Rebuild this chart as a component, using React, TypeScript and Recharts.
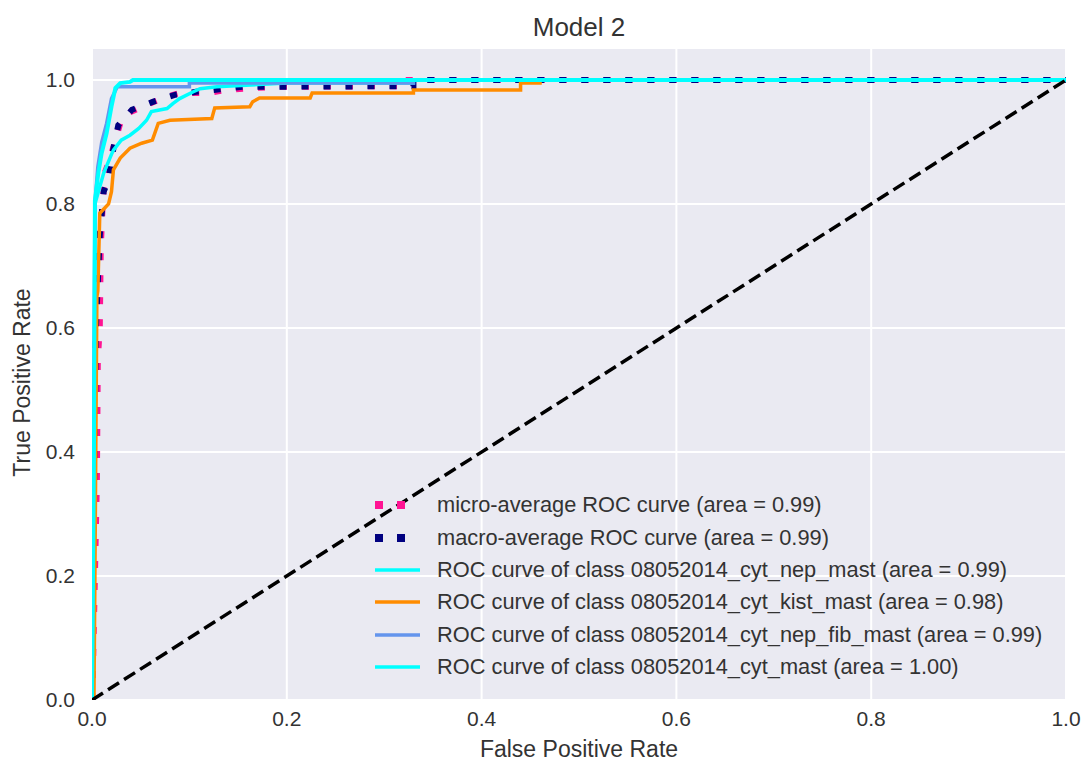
import { LineChart, Line, XAxis, YAxis, CartesianGrid, Label } from 'recharts';

const xTicks = [0, 0.2, 0.4, 0.6, 0.8, 1.0];
const yTicks = [0, 0.2, 0.4, 0.6, 0.8, 1.0];

// micro-average
const microFpr = [0, 0.001, 0.003, 0.005, 0.006, 0.008, 0.009, 0.011, 0.013, 0.018, 0.029, 0.039, 0.056, 0.073, 0.09, 0.118, 0.139, 0.165, 0.193, 0.31, 0.31, 1.0];
const microTpr = [0, 0.05, 0.2, 0.35, 0.55, 0.6, 0.73, 0.8, 0.85, 0.871, 0.93, 0.948, 0.96, 0.971, 0.979, 0.979, 0.984, 0.987, 0.989, 0.99, 1.0, 1.0];

// macro-average
const macroFpr = [0, 0.002, 0.004, 0.008, 0.012, 0.017, 0.022, 0.027, 0.041, 0.063, 0.085, 0.107, 0.131, 0.155, 0.33, 0.33, 1.0];
const macroTpr = [0, 0.3, 0.6, 0.75, 0.82, 0.84, 0.89, 0.927, 0.952, 0.965, 0.976, 0.981, 0.985, 0.989, 0.99, 1.0, 1.0];

// class 08052014_cyt_nep_mast
const nepFpr = [0, 0.002, 0.003, 0.012, 0.02, 0.022, 0.03, 0.039, 0.048, 0.056, 0.061, 0.077, 0.083, 0.09, 0.104, 0.111, 0.128, 0.2, 0.33, 0.33, 1.0];
const nepTpr = [0, 0.4, 0.8, 0.85, 0.88, 0.887, 0.903, 0.911, 0.922, 0.935, 0.949, 0.954, 0.962, 0.97, 0.981, 0.986, 0.989, 0.995, 0.995, 1.0, 1.0];

// class 08052014_cyt_kist_mast
const kistFpr = [0, 0.002, 0.003, 0.005, 0.006, 0.008, 0.017, 0.02, 0.022, 0.029, 0.039, 0.051, 0.062, 0.068, 0.08, 0.123, 0.126, 0.162, 0.165, 0.172, 0.224, 0.226, 0.33, 0.33, 0.44, 0.44, 0.46, 0.46, 1.0];
const kistTpr = [0, 0.0, 0.2, 0.65, 0.66, 0.785, 0.8, 0.82, 0.855, 0.874, 0.89, 0.898, 0.903, 0.93, 0.935, 0.938, 0.955, 0.957, 0.965, 0.971, 0.971, 0.979, 0.979, 0.984, 0.984, 0.995, 0.995, 1.0, 1.0];

// class 08052014_cyt_nep_fib_mast
const fibFpr = [0, 0.002, 0.003, 0.006, 0.01, 0.015, 0.02, 0.026, 0.1, 0.1, 0.33, 0.33, 1.0];
const fibTpr = [0, 0.5, 0.8, 0.86, 0.9, 0.93, 0.97, 0.989, 0.989, 0.995, 0.995, 1.0, 1.0];

// class 08052014_cyt_mast
const mastFpr = [0, 0.002, 0.003, 0.0065, 0.0099, 0.015, 0.02, 0.024, 0.029, 0.039, 0.042, 1.0];
const mastTpr = [0, 0.4, 0.806, 0.85, 0.882, 0.914, 0.957, 0.987, 0.995, 0.997, 1.0, 1.0];

const chanceFpr = [0, 1];
const chanceTpr = [0, 1];

const toPoints = (xs: number[], ys: number[]) => xs.map((x, i) => ({ x, y: ys[i] }));

const series = [
  { name: 'micro-average ROC curve (area = 0.99)', data: toPoints(microFpr, microTpr), color: '#ff1493', width: 6, dash: '7 15', dotted: true },
  { name: 'macro-average ROC curve (area = 0.99)', data: toPoints(macroFpr, macroTpr), color: '#000080', width: 6, dash: '7 15', dotted: true },
  { name: 'ROC curve of class 08052014_cyt_nep_mast (area = 0.99)', data: toPoints(nepFpr, nepTpr), color: '#00ffff', width: 3.5 },
  { name: 'ROC curve of class 08052014_cyt_kist_mast (area = 0.98)', data: toPoints(kistFpr, kistTpr), color: '#ff8c00', width: 3.5 },
  { name: 'ROC curve of class 08052014_cyt_nep_fib_mast (area = 0.99)', data: toPoints(fibFpr, fibTpr), color: '#6495ed', width: 3.5 },
  { name: 'ROC curve of class 08052014_cyt_mast (area = 1.00)', data: toPoints(mastFpr, mastTpr), color: '#00ffff', width: 4 },
];

const FONT = '"Liberation Sans", Arial, sans-serif';
const TEXT = '#333';

function RocLegend() {
  return (
    <div style={{ position: 'absolute', left: 370, top: 489, fontFamily: FONT, fontSize: 21.8, color: TEXT }}>
      {series.map((s) => (
        <div key={s.name} style={{ display: 'flex', alignItems: 'center', height: 32.4 }}>
          <svg width={67} height={12}>
            <line
              x1={5}
              y1={6}
              x2={s.dotted ? 42 : 50}
              y2={6}
              stroke={s.color}
              strokeWidth={s.dotted ? 8 : 3.5}
              strokeDasharray={s.dotted ? '8 14' : undefined}
            />
          </svg>
          <span style={{ whiteSpace: 'nowrap' }}>{s.name}</span>
        </div>
      ))}
    </div>
  );
}

export default function App() {
  return (
    <div style={{ position: 'absolute', left: 0, top: 0, width: 1082, height: 769, background: '#fff' }}>
      <div
        style={{
          position: 'absolute',
          left: 0,
          width: 1158,
          top: 12,
          textAlign: 'center',
          fontFamily: FONT,
          fontSize: 26,
          color: TEXT,
        }}
      >
        Model 2
      </div>
      <LineChart width={1082} height={769} margin={{ top: 49, right: 16, bottom: 0, left: 0 }}>
        <CartesianGrid fill="#eaeaf2" stroke="#ffffff" strokeWidth={2} horizontalValues={yTicks} verticalValues={xTicks} />
        <XAxis
          dataKey="x"
          type="number"
          domain={[0, 1]}
          ticks={xTicks}
          tickFormatter={(v: number) => v.toFixed(1)}
          height={69}
          axisLine={false}
          tickLine={false}
          tickSize={0}
          tickMargin={11}
          tick={{ fill: TEXT, fontSize: 21, fontFamily: FONT }}
          allowDataOverflow
        >
          <Label value="False Positive Rate" position="center" dy={14} fill={TEXT} fontSize={23} fontFamily={FONT} />
        </XAxis>
        <YAxis
          dataKey="y"
          type="number"
          domain={[0, 1.05]}
          ticks={yTicks}
          tickFormatter={(v: number) => v.toFixed(1)}
          width={92}
          axisLine={false}
          tickLine={false}
          tickSize={0}
          tickMargin={17}
          tick={{ fill: TEXT, fontSize: 21, fontFamily: FONT }}
          allowDataOverflow
        >
          <Label value="True Positive Rate" position="center" angle={-90} dx={-24} dy={8} fill={TEXT} fontSize={23} fontFamily={FONT} />
        </YAxis>
        {series.map((s) => (
          <Line
            key={s.name}
            data={s.data}
            dataKey="y"
            name={s.name}
            type="linear"
            stroke={s.color}
            strokeWidth={s.width}
            strokeDasharray={s.dash}
            dot={false}
            activeDot={false}
            isAnimationActive={false}
          />
        ))}
        <Line
          data={toPoints(chanceFpr, chanceTpr)}
          dataKey="y"
          type="linear"
          stroke="#000000"
          strokeWidth={3.5}
          strokeDasharray="13 6"
          dot={false}
          activeDot={false}
          legendType="none"
          isAnimationActive={false}
        />
      </LineChart>
      <RocLegend />
    </div>
  );
}
